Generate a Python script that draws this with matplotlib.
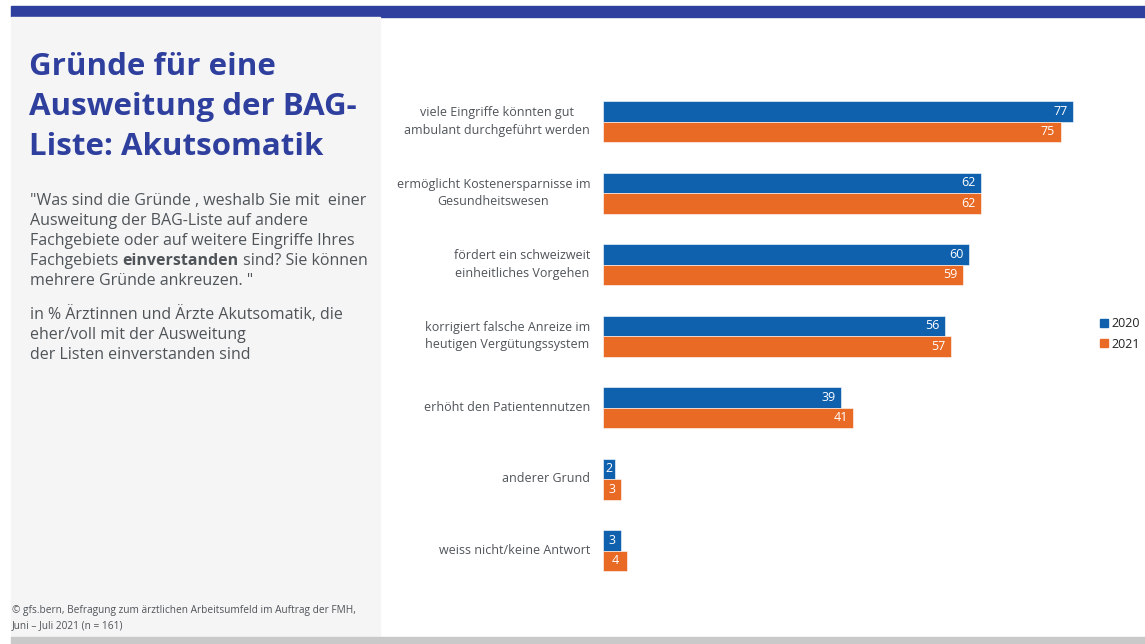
import matplotlib.pyplot as plt
from matplotlib.patches import Rectangle
from matplotlib.lines import Line2D

categories = [
    "viele Eingriffe könnten gut\nambulant durchgeführt werden",
    "ermöglicht Kostenersparnisse im\nGesundheitswesen",
    "fördert ein schweizweit\neinheitliches Vorgehen",
    "korrigiert falsche Anreize im\nheutigen Vergütungssystem",
    "erhöht den Patientennutzen",
    "anderer Grund",
    "weiss nicht/keine Antwort",
]
values_2020 = [77, 62, 60, 56, 39, 2, 3]
values_2021 = [75, 62, 59, 57, 41, 3, 4]
years = ["2020", "2021"]

BLUE = "#0F61AE"
ORANGE = "#E96A25"
TITLE_BLUE = "#2F3F9E"
GREY_TXT = "#4F5459"

plt.rcParams['font.family'] = ['Open Sans', 'DejaVu Sans']

W, H = 1145, 644
fig = plt.figure(figsize=(W / 100, H / 100), dpi=100)
fig.patch.set_facecolor("white")

def fx(px):
    return px / W

def fy(py):
    return 1 - py / H

# background pieces
fig.patches.append(Rectangle((fx(11), fy(17)), fx(1145 - 11), 11 / H,
                             transform=fig.transFigure, color=TITLE_BLUE, zorder=0))
fig.patches.append(Rectangle((fx(11), fy(637)), fx(380 - 11), 620 / H,
                             transform=fig.transFigure, color="#F5F5F5", zorder=0))
fig.patches.append(Rectangle((fx(11), 0), fx(1145 - 11), 7 / H,
                             transform=fig.transFigure, color="#C9C9C9", zorder=0))

# title, one line at a time
for i, line in enumerate(["Gründe für eine", "Ausweitung der BAG-", "Liste: Akutsomatik"]):
    fig.text(fx(29), fy(67 + 40 * i), line, fontsize=22.5, fontweight="bold",
             color=TITLE_BLUE, va="center", ha="left")

q_lines = [
    '"Was sind die Gründe , weshalb Sie mit  einer',
    'Ausweitung der BAG-Liste auf andere',
    'Fachgebiete oder auf weitere Eingriffe Ihres',
    None,
    'mehrere Gründe ankreuzen. "',
]
fs = 11.5
for i, line in enumerate(q_lines):
    y = fy(201 + 20 * i)
    if line is None:
        t1 = fig.text(fx(30), y, "Fachgebiets ", fontsize=fs, color=GREY_TXT, va="center")
        fig.canvas.draw()
        bb = t1.get_window_extent()
        t2 = fig.text(bb.x1 / W, y, "einverstanden", fontsize=fs, color=GREY_TXT,
                      fontweight="bold", va="center")
        bb2 = t2.get_window_extent()
        fig.text(bb2.x1 / W, y, " sind? Sie können", fontsize=fs, color=GREY_TXT, va="center")
    else:
        fig.text(fx(30), y, line, fontsize=fs, color=GREY_TXT, va="center")

sub_lines = ["in % Ärztinnen und Ärzte Akutsomatik, die",
             "eher/voll mit der Ausweitung",
             "der Listen einverstanden sind"]
for i, line in enumerate(sub_lines):
    fig.text(fx(30), fy(315 + 20 * i), line, fontsize=fs, color=GREY_TXT, va="center")

fig.text(fx(12), fy(611), "© gfs.bern, Befragung zum ärztlichen Arbeitsumfeld im Auftrag der FMH,",
         fontsize=7.3, color=GREY_TXT, va="center")
fig.text(fx(12), fy(626), "Juni – Juli 2021 (n = 161)", fontsize=7.3, color=GREY_TXT, va="center")

# bar chart
px_per_unit = 6.1
ax_left, ax_right = 603, 603 + 80 * px_per_unit
ax_top, ax_bot = 86, 586
ax = fig.add_axes([fx(ax_left), fy(ax_bot), fx(ax_right - ax_left), (ax_bot - ax_top) / H])
ax.set_facecolor("none")

step = 71.5
h = 20.5 / step
pos = list(range(len(categories)))
ax.barh([p - h / 2 for p in pos], values_2020, height=h, color=BLUE, edgecolor="white", linewidth=0.4)
ax.barh([p + h / 2 for p in pos], values_2021, height=h, color=ORANGE, edgecolor="white", linewidth=0.4)

top = (121.5 - ax_top) / step
ax.set_ylim(-top + (ax_bot - ax_top) / step, -top)
ax.set_xlim(0, 80)

for vals, off in [(values_2020, -h / 2), (values_2021, h / 2)]:
    for p, v in zip(pos, vals):
        if v < 6:
            ax.text(v / 2, p + off, str(v), ha="center", va="center", color="white", fontsize=9)
        else:
            ax.text(v - 0.9, p + off, str(v), ha="right", va="center", color="white", fontsize=9)

for p, c in zip(pos, categories):
    ax.text(-2.1, p, c, ha="right", va="center", multialignment="center",
            fontsize=9, color=GREY_TXT, linespacing=1.45)

for s in ax.spines.values():
    s.set_visible(False)
ax.set_xticks([])
ax.set_yticks([])

handles = [Line2D([], [], marker="s", linestyle="none", markersize=6, color=BLUE),
           Line2D([], [], marker="s", linestyle="none", markersize=6, color=ORANGE)]
fig.legend(handles, years, loc="center left", bbox_to_anchor=(fx(1093), fy(334)),
           frameon=False, fontsize=9, handletextpad=0.1, labelspacing=0.6,
           handlelength=1.0, borderaxespad=0, labelcolor="#222222")

fig.savefig("out.png", dpi=100)
